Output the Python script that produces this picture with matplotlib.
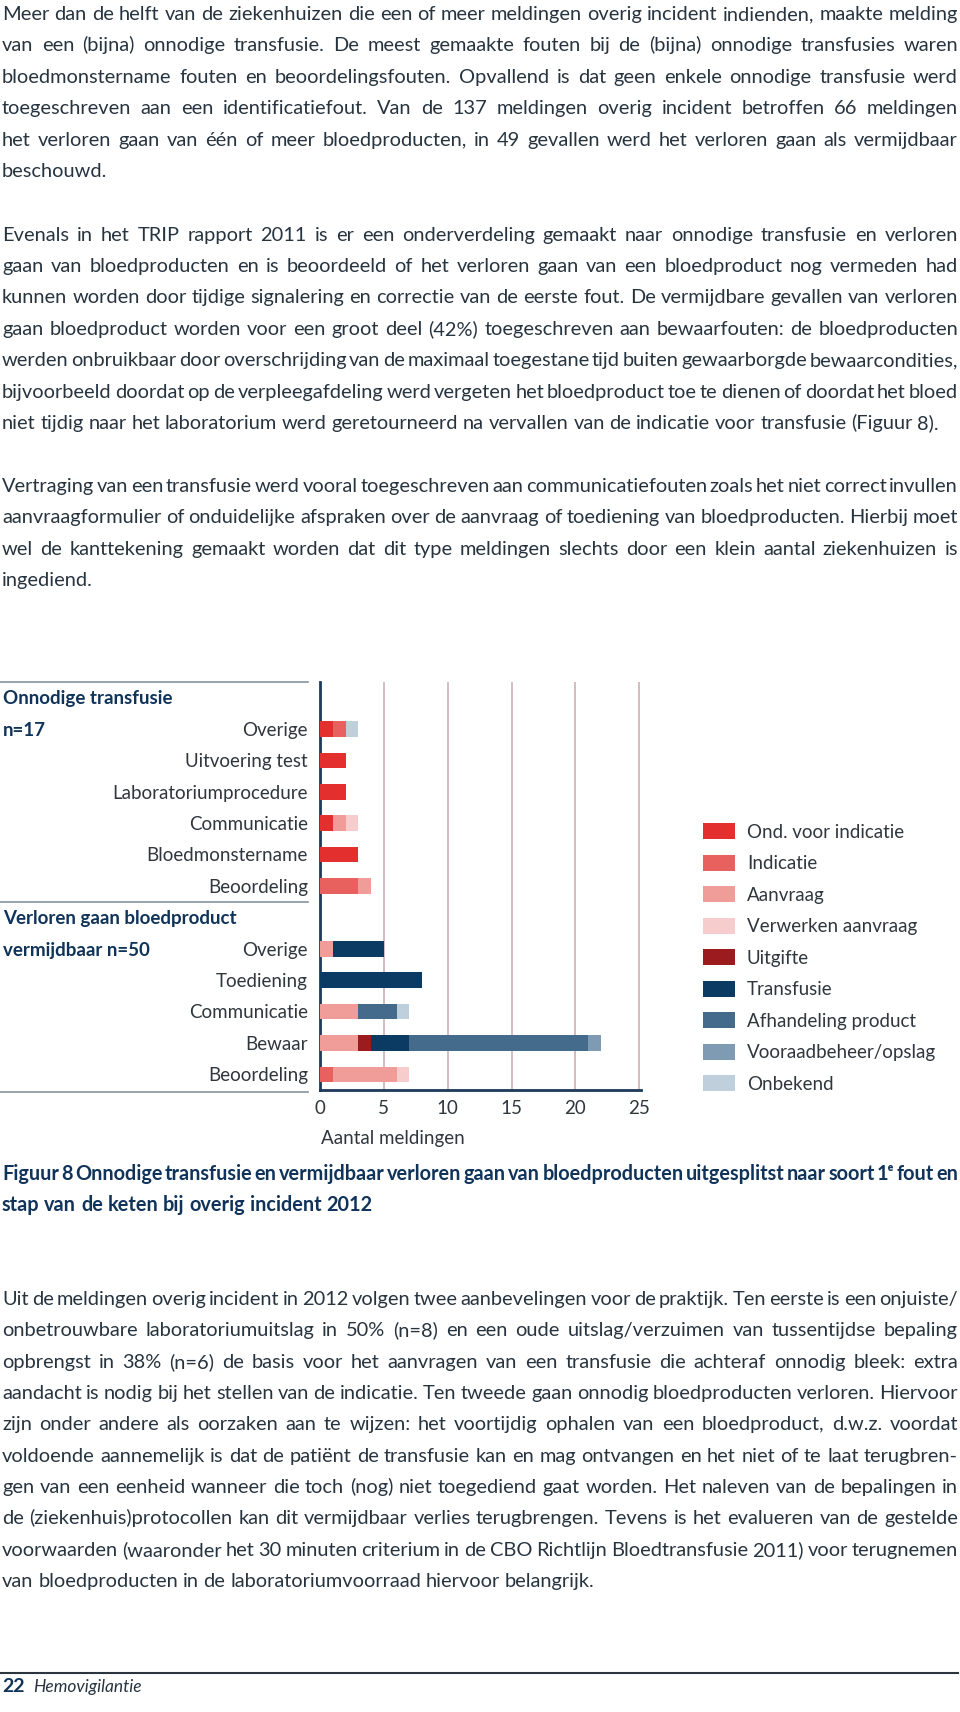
import matplotlib
matplotlib.use('Agg')
import matplotlib.pyplot as plt
from matplotlib.patches import Rectangle
import numpy as np

# ---------------- data ----------------
group_titles = [("Onnodige transfusie", "n=17"), ("Verloren gaan bloedproduct", "vermijdbaar n=50")]
cats_onnodig = ["Overige", "Uitvoering test", "Laboratoriumprocedure", "Communicatie",
                "Bloedmonstername", "Beoordeling"]
cats_verloren = ["Overige", "Toediening", "Communicatie", "Bewaar", "Beoordeling"]

stages = ["Ond. voor indicatie", "Indicatie", "Aanvraag", "Verwerken aanvraag", "Uitgifte",
          "Transfusie", "Afhandeling product", "Vooraadbeheer/opslag", "Onbekend"]
stage_colors = ["#e3302f", "#e8615e", "#f09c98", "#f7cccd", "#9b1b1f",
                "#0b3a62", "#456b8c", "#7f9bb4", "#c0cfdc"]

# rows: 6 onnodig rows then 5 verloren rows (top to bottom)
ond_voor_indicatie = [1, 2, 2, 1, 3, 0,   0, 0, 0, 0, 0]
indicatie          = [1, 0, 0, 0, 0, 3,   0, 0, 0, 0, 1]
aanvraag           = [0, 0, 0, 1, 0, 1,   1, 0, 3, 3, 5]
verwerken_aanvraag = [0, 0, 0, 1, 0, 0,   0, 0, 0, 0, 1]
uitgifte           = [0, 0, 0, 0, 0, 0,   0, 0, 0, 1, 0]
transfusie         = [0, 0, 0, 0, 0, 0,   4, 8, 0, 3, 0]
afhandeling        = [0, 0, 0, 0, 0, 0,   0, 0, 3, 14, 0]
voorraadbeheer     = [0, 0, 0, 0, 0, 0,   0, 0, 0, 1, 0]
onbekend           = [1, 0, 0, 0, 0, 0,   0, 0, 1, 0, 0]
stage_values = [ond_voor_indicatie, indicatie, aanvraag, verwerken_aanvraag, uitgifte,
                transfusie, afhandeling, voorraadbeheer, onbekend]

xticks = [0, 5, 10, 15, 20, 25]
xtick_labels = ["0", "5", "10", "15", "20", "25"]
xlabel = "Aantal meldingen"

para1 = ["Meer dan de helft van de ziekenhuizen die een of meer meldingen overig incident indienden, maakte melding",
         "van een (bijna) onnodige transfusie. De meest gemaakte fouten bij de (bijna) onnodige transfusies waren",
         "bloedmonstername fouten en beoordelingsfouten. Opvallend is dat geen enkele onnodige transfusie werd",
         "toegeschreven aan een identificatiefout. Van de 137 meldingen overig incident betroffen 66 meldingen",
         "het verloren gaan van één of meer bloedproducten, in 49 gevallen werd het verloren gaan als vermijdbaar",
         "beschouwd."]
para2 = ["Evenals in het TRIP rapport 2011 is er een onderverdeling gemaakt naar onnodige transfusie en verloren",
         "gaan van bloedproducten en is beoordeeld of het verloren gaan van een bloedproduct nog vermeden had",
         "kunnen worden door tijdige signalering en correctie van de eerste fout. De vermijdbare gevallen van verloren",
         "gaan bloedproduct worden voor een groot deel (42%) toegeschreven aan bewaarfouten: de bloedproducten",
         "werden onbruikbaar door overschrijding van de maximaal toegestane tijd buiten gewaarborgde bewaarcondities,",
         "bijvoorbeeld doordat op de verpleegafdeling werd vergeten het bloedproduct toe te dienen of doordat het bloed",
         "niet tijdig naar het laboratorium werd geretourneerd na vervallen van de indicatie voor transfusie (Figuur 8)."]
para3 = ["Vertraging van een transfusie werd vooral toegeschreven aan communicatiefouten zoals het niet correct invullen",
         "aanvraagformulier of onduidelijke afspraken over de aanvraag of toediening van bloedproducten. Hierbij moet",
         "wel de kanttekening gemaakt worden dat dit type meldingen slechts door een klein aantal ziekenhuizen is",
         "ingediend."]
caption = ["Figuur 8 Onnodige transfusie en vermijdbaar verloren gaan van bloedproducten uitgesplitst naar soort 1ᵉ fout en",
           "stap van de keten bij overig incident 2012"]
para4 = ["Uit de meldingen overig incident in 2012 volgen twee aanbevelingen voor de praktijk. Ten eerste is een onjuiste/",
         "onbetrouwbare laboratoriumuitslag in 50% (n=8) en een oude uitslag/verzuimen van tussentijdse bepaling",
         "opbrengst in 38% (n=6) de basis voor het aanvragen van een transfusie die achteraf onnodig bleek: extra",
         "aandacht is nodig bij het stellen van de indicatie. Ten tweede gaan onnodig bloedproducten verloren. Hiervoor",
         "zijn onder andere als oorzaken aan te wijzen: het voortijdig ophalen van een bloedproduct, d.w.z. voordat",
         "voldoende aannemelijk is dat de patiënt de transfusie kan en mag ontvangen en het niet of te laat terugbren-",
         "gen van een eenheid wanneer die toch (nog) niet toegediend gaat worden. Het naleven van de bepalingen in",
         "de (ziekenhuis)protocollen kan dit vermijdbaar verlies terugbrengen. Tevens is het evalueren van de gestelde",
         "voorwaarden (waaronder het 30 minuten criterium in de CBO Richtlijn Bloedtransfusie 2011) voor terugnemen",
         "van bloedproducten in de laboratoriumvoorraad hiervoor belangrijk."]
footer_num = "22"
footer_txt = "Hemovigilantie"

# ---------------- setup ----------------
W, H = 960, 1712
fig = plt.figure(figsize=(W / 100, H / 100), dpi=100, facecolor='white')
page = fig.add_axes([0, 0, 1, 1])
page.set_xlim(0, W)
page.set_ylim(H, 0)
page.axis('off')
renderer = fig.canvas.get_renderer()

BODY = '#27343f'
LABEL = '#2f363d'
NAVY = '#10335a'
FAM = ['Lato', 'DejaVu Sans']
FAM_BOLD = ['Lato', 'DejaVu Sans']
X0, X1 = 2, 958
MIN_GAP_EM = 0.13


def word_widths(words, size, weight, family):
    ws = []
    for w in words:
        t = page.text(0, 0, w, fontsize=size, family=family, fontweight=weight)
        ws.append(t.get_window_extent(renderer).width)
        t.remove()
    return ws


def fit_size(lines, size, weight, family):
    """largest uniform size (<= size) so that every justified line fits"""
    f = 1.0
    for ln in lines:
        words = ln.split(' ')
        ws = word_widths(words, size, weight, family)
        need = sum(ws) + (len(words) - 1) * MIN_GAP_EM * size * 100 / 72
        f = min(f, (X1 - X0) / need)
    return size * f


def put_line(line, y, size, justify=True, color=BODY, weight='normal', family=FAM):
    words = line.split(' ')
    ts = [page.text(0, y, w, fontsize=size, family=family, fontweight=weight, color=color,
                    va='baseline', ha='left') for w in words]
    ws = [t.get_window_extent(renderer).width for t in ts]
    n = len(words)
    if justify and n > 1:
        gap = (X1 - X0 - sum(ws)) / (n - 1)
    else:
        gap = size * 100 / 72 * 0.24
    x = X0
    for t, w in zip(ts, ws):
        t.set_x(x)
        x += w + gap


def put_para(lines, y0, size, step=31.4, **kw):
    for i, ln in enumerate(lines):
        put_line(ln, y0 + i * step, size, justify=(i < len(lines) - 1), **kw)


body_lines = [p[i] for p in (para1, para2, para3, para4) for i in range(len(p) - 1)]
body_size = fit_size(body_lines, 14.5, 'normal', FAM)
cap_size = fit_size(caption[:1], 14.5, 'bold', FAM_BOLD)

put_para(para1, 20, body_size)
put_para(para2, 240.5, body_size)
put_para(para3, 492, body_size)
put_para(caption, 1180, cap_size, step=31, weight='bold', color=NAVY, family=FAM_BOLD)
put_para(para4, 1305, body_size, step=31.35)

# footer
page.plot([0, 958], [1673, 1673], color='#2a3540', lw=1.5)
page.text(2, 1692, footer_num, fontsize=14, family=FAM_BOLD, fontweight='bold', color=NAVY, va='baseline')
page.text(33, 1692, footer_txt, fontsize=12.5, family=FAM, fontstyle='italic', color=BODY, va='baseline')

# ---------------- chart ----------------
slot0 = 697.6
step = 31.4
top_px = slot0 - 0.5 * step
bot_px = slot0 + 12.5 * step
x_left = 320
unit = 12.77
xmax = 25.1
ax = fig.add_axes([x_left / W, (H - bot_px) / H, xmax * unit / W, (bot_px - top_px) / H])
ax.set_xlim(0, xmax)
ax.set_ylim(12.5, -0.5)

row_slots = list(range(1, 7)) + list(range(8, 13))
left = np.zeros(len(row_slots))
for name, col, vals in zip(stages, stage_colors, stage_values):
    v = np.array(vals, dtype=float)
    ax.barh(row_slots, v, left=left, height=0.5, color=col, edgecolor='none', zorder=3)
    left += v

ax.set_xticks(xticks)
ax.set_xticklabels(xtick_labels)
ax.set_yticks([])
ax.tick_params(axis='x', length=0, pad=7, labelsize=13.5, labelcolor=LABEL)
for lab in ax.get_xticklabels():
    lab.set_family(FAM)
ax.xaxis.grid(True, color='#c6a9ae', lw=1.1, zorder=0)
ax.set_axisbelow(True)
for s in ['top', 'right']:
    ax.spines[s].set_visible(False)
for s in ['left', 'bottom']:
    ax.spines[s].set_color('#1d3a5a')
    ax.spines[s].set_linewidth(2)
ax.set_facecolor('none')

page.text(321, 1144, xlabel, fontsize=13.5, family=FAM, color=LABEL, va='baseline')

# left labels
all_cats = cats_onnodig + cats_verloren
for slot, cat in zip(row_slots, all_cats):
    page.text(308, slot0 + slot * step + 6.7, cat, fontsize=13.5, family=FAM,
              color=LABEL, ha='right', va='baseline')
for (t1, t2), s in zip(group_titles, [0, 7]):
    page.text(3, slot0 + s * step + 6.7, t1, fontsize=13.5, family=FAM_BOLD, fontweight='bold',
              color=NAVY, va='baseline')
    page.text(3, slot0 + (s + 1) * step + 6.7, t2, fontsize=13.5, family=FAM_BOLD, fontweight='bold',
              color=NAVY, va='baseline')
for yy in [681.5, 901.7, 1091.5]:
    page.plot([0, 308], [yy, yy], color='#8593a0', lw=1.2)

# legend
leg_y0 = 831
leg_step = 31.5
for i, (name, col) in enumerate(zip(stages, stage_colors)):
    cy = leg_y0 + i * leg_step
    page.add_patch(Rectangle((703, cy - 8), 32, 16, facecolor=col, edgecolor='none'))
    page.text(747, cy + 6.5, name, fontsize=13.5, family=FAM, color=LABEL, va='baseline')

fig.savefig('out.png', dpi=100, facecolor='white')
